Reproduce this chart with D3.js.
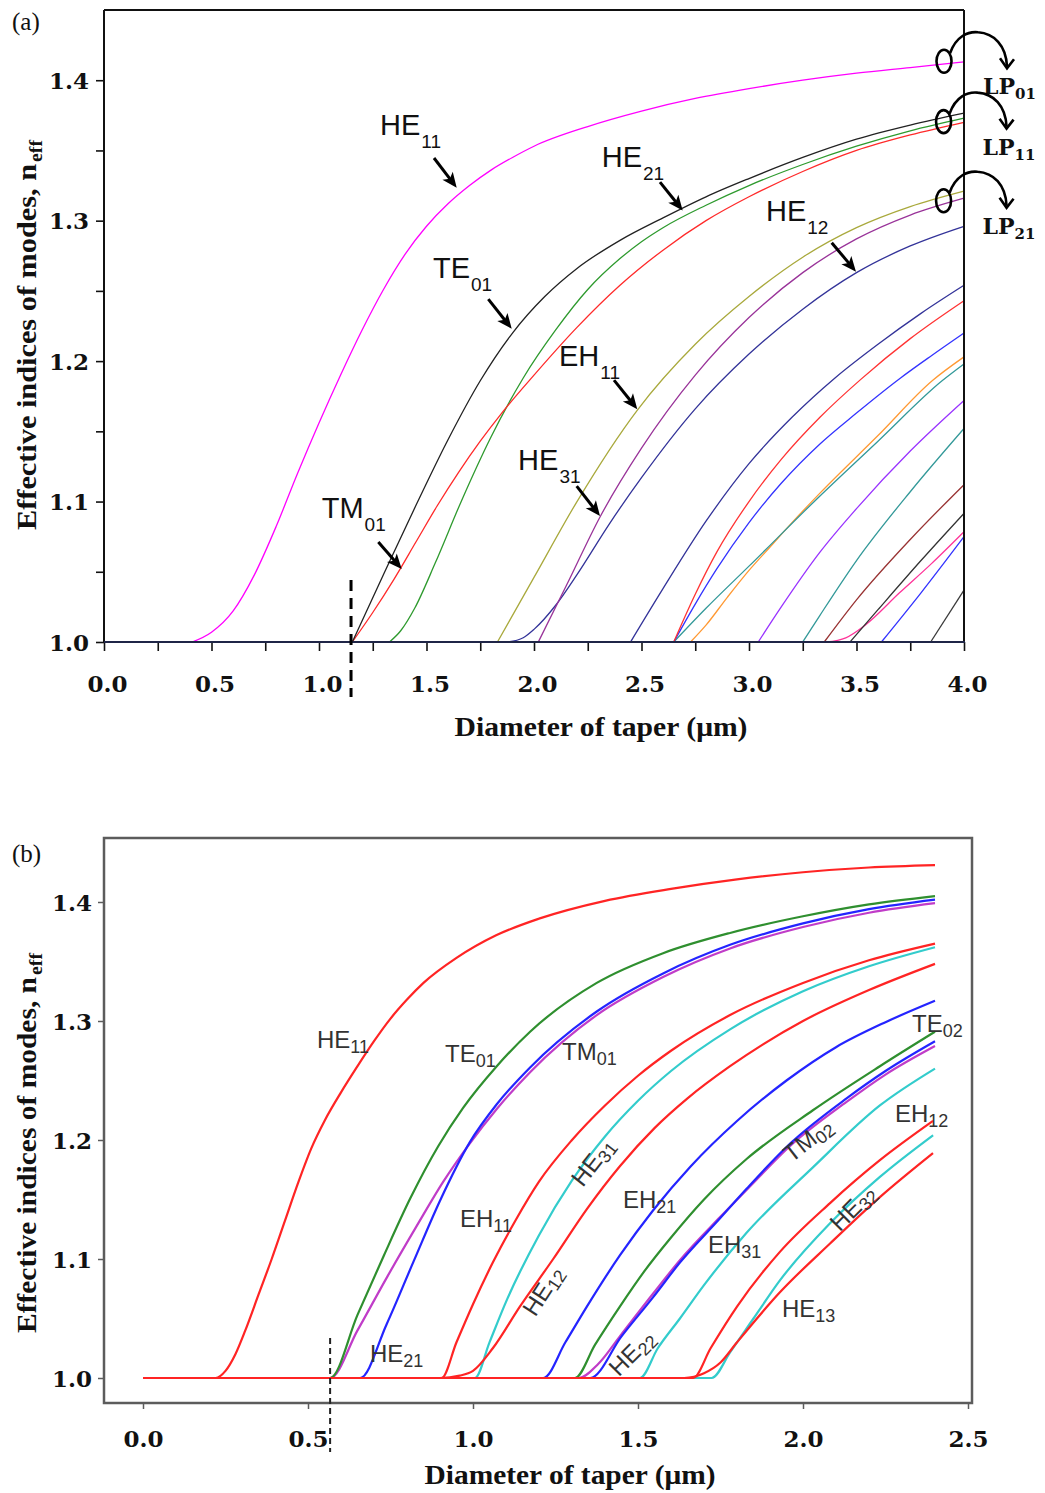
<!DOCTYPE html>
<html>
<head>
<meta charset="utf-8">
<script src="https://cdn.jsdelivr.net/npm/d3@7/dist/d3.min.js"></script>
<style>
html,body{margin:0;padding:0;background:#fff;}
svg{display:block;}
</style>
</head>
<body>
<svg id="chart" width="1045" height="1493"></svg>
<script>
// ================= Panel (a) data =================
const aXDomain = [0, 4];
const aYDomain = [1.0, 1.45];
const aXTicks = [0,0.25,0.5,0.75,1,1.25,1.5,1.75,2,2.25,2.5,2.75,3,3.25,3.5,3.75,4];
const aXLabels = [0,0.5,1,1.5,2,2.5,3,3.5,4];
const aYTicks = [1,1.05,1.1,1.15,1.2,1.25,1.3,1.35,1.4];
const aYLabels = [1,1.1,1.2,1.3,1.4];
const aCutoffLine = 1.149;

const a_HE11 = [[0.41,1],[0.5,1.007],[0.6,1.022],[0.7,1.048],[0.8,1.082],[0.9,1.12],[1.0,1.156],[1.1,1.19],[1.2,1.222],[1.3,1.251],[1.4,1.276],[1.5,1.296],[1.6,1.312],[1.7,1.325],[1.8,1.336],[1.9,1.345],[2.0,1.353],[2.25,1.367],[2.5,1.378],[2.75,1.387],[3.0,1.394],[3.25,1.4],[3.5,1.405],[3.75,1.409],[4.0,1.413]];
const a_TE01 = [[1.155,1],[1.3,1.048],[1.45,1.097],[1.6,1.144],[1.75,1.186],[1.9,1.22],[2.05,1.246],[2.2,1.266],[2.4,1.286],[2.6,1.302],[2.8,1.317],[3.0,1.33],[3.25,1.345],[3.5,1.358],[3.75,1.368],[4.0,1.3765]];
const a_TM01 = [[1.155,1],[1.25,1.021],[1.35,1.045],[1.45,1.071],[1.55,1.097],[1.65,1.121],[1.75,1.143],[1.85,1.163],[2.0,1.19],[2.2,1.224],[2.4,1.254],[2.6,1.279],[2.8,1.3],[3.0,1.317],[3.25,1.335],[3.5,1.35],[3.75,1.361],[4.0,1.370]];
const a_HE21 = [[1.328,1],[1.38,1.008],[1.445,1.024],[1.54,1.056],[1.664,1.101],[1.8,1.146],[1.95,1.188],[2.1,1.222],[2.25,1.251],[2.4,1.273],[2.5,1.285],[2.6,1.295],[2.8,1.311],[3.0,1.325],[3.25,1.34],[3.5,1.353],[3.75,1.364],[4.0,1.373]];
const a_EH11 = [[1.83,1],[2.0,1.046],[2.2,1.1],[2.48,1.165],[2.75,1.212],[3.0,1.246],[3.25,1.274],[3.5,1.295],[3.75,1.31],[4.0,1.321]];
const a_HE31 = [[2.02,1],[2.15,1.04],[2.307,1.089],[2.5,1.138],[2.75,1.19],[3.0,1.231],[3.25,1.263],[3.5,1.287],[3.75,1.304],[4.0,1.316]];
const a_HE12 = [[1.88,1],[1.95,1.003],[2.0,1.009],[2.1,1.026],[2.2,1.048],[2.35,1.084],[2.5,1.117],[2.75,1.166],[3.0,1.205],[3.25,1.237],[3.5,1.263],[3.75,1.282],[4.0,1.296]];
const a_M08 = [[2.449,1],[2.6,1.038],[2.8,1.086],[3.0,1.127],[3.2,1.16],[3.4,1.188],[3.6,1.212],[3.8,1.234],[4.0,1.254]];
const a_M09 = [[2.65,1],[2.75,1.034],[2.85,1.064],[3.0,1.1],[3.15,1.13],[3.33,1.16],[3.52,1.187],[3.75,1.216],[4.0,1.243]];
const a_M10 = [[2.65,1],[2.75,1.027],[2.85,1.052],[3.0,1.085],[3.15,1.113],[3.33,1.141],[3.5,1.163],[3.705,1.188],[3.85,1.204],[4.0,1.22]];
const a_M11 = [[2.65,1],[2.8,1.024],[3.0,1.054],[3.33,1.104],[3.6,1.143],[3.898,1.186],[4.0,1.198]];
const a_M12 = [[2.728,1],[2.8,1.012],[2.9,1.032],[3.0,1.051],[3.1,1.068],[3.2,1.085],[3.33,1.106],[3.6,1.147],[3.852,1.186],[4.0,1.203]];
const a_M13 = [[3.043,1],[3.15,1.025],[3.33,1.064],[3.5,1.095],[3.75,1.136],[4.0,1.172]];
const a_M14 = [[3.25,1],[3.33,1.019],[3.5,1.058],[3.75,1.107],[4.0,1.152]];
const a_M15 = [[3.35,1],[3.5,1.03],[3.75,1.073],[4.0,1.112]];
const a_M16 = [[3.47,1],[3.6,1.023],[3.8,1.058],[4.0,1.0916]];
const a_M17 = [[3.36,1],[3.45,1.003],[3.54,1.012],[3.7,1.035],[3.85,1.056],[4.0,1.0785]];
const a_M18 = [[3.616,1],[3.8,1.035],[4.0,1.075]];
const a_M19 = [[3.845,1],[4.0,1.037]];

// labels (text, subscript, x in um, baseline n)
const aLabelText = ["HE","HE","TE","HE","EH","HE","TM"];
const aLabelSub  = ["11","21","01","12","11","31","01"];
const aLabelX    = [1.284,2.315,1.530,3.079,2.116,1.926,1.0126];
const aLabelN    = [1.3609,1.3381,1.2591,1.2996,1.1964,1.1224,1.0883];
// arrows (tail -> tip) in data units
const aArrowX1 = [1.5349,2.5860,1.7874,3.3847,2.3721,2.1986,1.2758];
const aArrowN1 = [1.3446,1.3274,1.2441,1.2843,1.1865,1.1110,1.0712];
const aArrowX2 = [1.6405,2.6916,1.8963,3.4977,2.4805,2.3070,1.3847];
const aArrowN2 = [1.3235,1.3073,1.2231,1.2637,1.1658,1.0897,1.0520];
// LP groups (circle centre)
const aLPsub = ["01","11","21"];
const aLPX = [3.907,3.905,3.905];
const aLPN = [1.4135,1.3705,1.3142];

// ================= Panel (b) data =================
const bXDomain = [0, 2.5];
const bYDomain = [1.0, 1.4];
const bXTicks = [0,0.5,1,1.5,2,2.5];
const bYTicks = [1,1.1,1.2,1.3,1.4];
const bCutoffLine = 0.567;

const b_HE11 = [[0,1],[0.22,1],[0.25,1.006],[0.28,1.02],[0.31,1.04],[0.35,1.07],[0.39,1.1],[0.43,1.132],[0.47,1.164],[0.51,1.193],[0.55,1.216],[0.6,1.24],[0.65,1.262],[0.7,1.283],[0.75,1.302],[0.8,1.318],[0.85,1.332],[0.95,1.353],[1.07,1.372],[1.2,1.386],[1.4,1.401],[1.6,1.411],[1.8,1.419],[2.0,1.425],[2.2,1.429],[2.4,1.431]];
const b_TE01 = [[0,1],[0.567,1],[0.65,1.053],[0.73,1.103],[0.81,1.151],[0.895,1.195],[0.97,1.227],[1.072,1.262],[1.173,1.291],[1.375,1.332],[1.576,1.357],[1.779,1.374],[2.0,1.388],[2.2,1.398],[2.4,1.405]];
const b_HE21 = [[0,1],[0.658,1],[0.738,1.045],[0.82,1.098],[0.9,1.149],[0.99,1.198],[1.072,1.23],[1.173,1.261],[1.375,1.308],[1.576,1.34],[1.779,1.364],[2.0,1.382],[2.2,1.394],[2.4,1.402]];
const b_TM01 = [[0,1],[0.567,1],[0.65,1.04],[0.74,1.085],[0.83,1.128],[0.91,1.165],[0.99,1.197],[1.072,1.226],[1.173,1.257],[1.375,1.305],[1.576,1.337],[1.779,1.361],[2.0,1.379],[2.2,1.391],[2.4,1.399]];
const b_EH11 = [[0,1],[0.905,1],[0.95,1.03],[1.0,1.062],[1.06,1.097],[1.13,1.133],[1.2,1.165],[1.3,1.2],[1.4,1.229],[1.5,1.254],[1.6,1.275],[1.779,1.305],[2.0,1.332],[2.2,1.351],[2.4,1.365]];
const b_HE31 = [[0,1],[1.006,1],[1.05,1.03],[1.1,1.064],[1.2,1.12],[1.3,1.166],[1.4,1.203],[1.5,1.233],[1.6,1.258],[1.779,1.293],[2.0,1.325],[2.2,1.346],[2.4,1.362]];
const b_HE12 = [[0,1],[0.9,1],[0.96,1.002],[1.0,1.006],[1.06,1.025],[1.142,1.06],[1.243,1.1],[1.345,1.142],[1.445,1.178],[1.55,1.21],[1.65,1.235],[1.779,1.262],[2.0,1.3],[2.2,1.326],[2.4,1.348]];
const b_EH21 = [[0,1],[1.213,1],[1.28,1.03],[1.345,1.06],[1.445,1.103],[1.546,1.141],[1.66,1.178],[1.8,1.216],[1.95,1.25],[2.1,1.278],[2.25,1.299],[2.4,1.317]];
const b_TE02 = [[0,1],[1.309,1],[1.37,1.028],[1.445,1.06],[1.52,1.09],[1.597,1.117],[1.7,1.15],[1.829,1.184],[2.03,1.225],[2.233,1.262],[2.4,1.291]];
const b_HE22 = [[0,1],[1.355,1],[1.45,1.035],[1.546,1.068],[1.627,1.097],[1.748,1.134],[1.829,1.159],[1.961,1.197],[2.132,1.235],[2.25,1.258],[2.4,1.283]];
const b_TM02 = [[0,1],[1.32,1],[1.38,1.012],[1.445,1.035],[1.546,1.071],[1.627,1.099],[1.748,1.135],[1.829,1.158],[1.961,1.195],[2.132,1.232],[2.25,1.255],[2.4,1.279]];
const b_EH31 = [[0,1],[1.506,1],[1.56,1.025],[1.627,1.05],[1.7,1.078],[1.829,1.122],[2.03,1.177],[2.233,1.229],[2.4,1.26]];
const b_EH12 = [[0,1],[1.667,1],[1.72,1.025],[1.8,1.06],[1.93,1.106],[2.082,1.147],[2.233,1.183],[2.394,1.216]];
const b_HE32 = [[0,1],[1.723,1],[1.78,1.022],[1.85,1.05],[1.93,1.082],[2.082,1.13],[2.233,1.169],[2.394,1.204]];
const b_HE13 = [[0,1],[1.64,1],[1.7,1.004],[1.75,1.013],[1.8,1.03],[1.93,1.072],[2.082,1.113],[2.233,1.152],[2.394,1.189]];

// horizontal labels
const bLabelText = ["HE","TE","TM","TE","EH","EH","EH","EH","HE","HE"];
const bLabelSub  = ["11","01","01","02","12","11","21","31","13","21"];
const bLabelX    = [0.5273,0.9152,1.2697,2.3303,2.2788,0.9606,1.4545,1.7121,1.9364,0.6879];
const bLabelN    = [1.2773,1.2655,1.2672,1.2908,1.2151,1.1269,1.1429,1.1050,1.0513,1.0134];
// rotated labels (centre)
const bRotText = ["HE","HE","HE","TM","HE"];
const bRotSub  = ["31","12","22","02","32"];
const bRotX    = [1.3636,1.2121,1.4818,2.0152,2.1515];
const bRotN    = [1.1815,1.0731,1.0210,1.2000,1.1429];
const bRotAngle = [-52,-57,-45,-38,-45];

// ================= drawing =================
const svg = d3.select("#chart");
svg.append("rect").attr("width",1045).attr("height",1493).attr("fill","#fff");
const f1 = d3.format(".1f");
const SERIF = "'DejaVu Serif', serif";
const TSERIF = "'Liberation Serif', 'Times New Roman', serif";
const SANS = "'Liberation Sans', Arial, sans-serif";

// ---------- Panel (a) ----------
const xA = d3.scaleLinear().domain(aXDomain).range([104, 964]);
const yA = d3.scaleLinear().domain(aYDomain).range([642, 10]);
const gA = svg.append("g");

const aSeries = [
  {d:a_M19,c:"#3a3a3a"},{d:a_M18,c:"#3333ff"},{d:a_M17,c:"#ff3399"},{d:a_M16,c:"#333333"},
  {d:a_M15,c:"#993333"},{d:a_M14,c:"#339999"},{d:a_M13,c:"#9933ff"},{d:a_M12,c:"#ff9933"},
  {d:a_M11,c:"#339999"},{d:a_M10,c:"#3333ff"},{d:a_M09,c:"#ff3333"},{d:a_M08,c:"#333399"},
  {d:a_HE12,c:"#333399"},{d:a_HE31,c:"#993399"},{d:a_EH11,c:"#a9a93c"},
  {d:a_HE21,c:"#2e9a2e"},{d:a_TM01,c:"#ff2a2a"},{d:a_TE01,c:"#222222"},{d:a_HE11,c:"#ff00ff"}
];
const lineA = d3.line().x(d=>xA(d[0])).y(d=>yA(d[1])).curve(d3.curveMonotoneX);
gA.append("g").selectAll("path").data(aSeries).join("path")
  .attr("d", s=>lineA(s.d)).attr("fill","none").attr("stroke", s=>s.c).attr("stroke-width",1.3);

// axes
const xAxA = gA.append("g").attr("transform",`translate(0,${yA(1)})`)
  .call(d3.axisBottom(xA).tickValues(aXTicks).tickSize(9).tickFormat(d => aXLabels.includes(d) ? f1(d) : ""));
xAxA.select(".domain").remove();
xAxA.selectAll(".tick line").attr("stroke","#111").attr("stroke-width",1.6);
xAxA.selectAll(".tick text").attr("x",3).attr("y",50).attr("dy",null)
  .attr("font-family",SERIF).attr("font-weight","bold").attr("font-size",23).attr("fill","#111");

const yAxA = gA.append("g").attr("transform",`translate(${xA(0)},0)`)
  .call(d3.axisLeft(yA).tickValues(aYTicks).tickSize(8).tickFormat(d => aYLabels.includes(d) ? f1(d) : ""));
yAxA.select(".domain").remove();
yAxA.selectAll(".tick line").attr("stroke","#111").attr("stroke-width",1.6);
yAxA.selectAll(".tick text").attr("x",-15).attr("dy","0.36em")
  .attr("font-family",SERIF).attr("font-weight","bold").attr("font-size",23).attr("fill","#111");

// frame
gA.append("line").attr("x1",xA(0)).attr("x2",xA(4)).attr("y1",yA(1.45)).attr("y2",yA(1.45)).attr("stroke","#111").attr("stroke-width",2);
gA.append("line").attr("x1",xA(0)).attr("x2",xA(0)).attr("y1",yA(1.45)).attr("y2",yA(1)).attr("stroke","#111").attr("stroke-width",2);
gA.append("line").attr("x1",xA(4)).attr("x2",xA(4)).attr("y1",yA(1.45)).attr("y2",yA(1)).attr("stroke","#111").attr("stroke-width",2);
gA.append("line").attr("x1",xA(0)).attr("x2",xA(4)+1).attr("y1",yA(1)).attr("y2",yA(1)).attr("stroke","#1f2547").attr("stroke-width",2.2);

// dashed cutoff
gA.append("line").attr("x1",xA(aCutoffLine)).attr("x2",xA(aCutoffLine))
  .attr("y1",yA(1.0441)).attr("y2",yA(0.9609)).attr("stroke","#000").attr("stroke-width",3).attr("stroke-dasharray","11,7");

// labels
aLabelText.forEach((t,i)=>{
  const tx = gA.append("text").attr("x",xA(aLabelX[i])).attr("y",yA(aLabelN[i]))
    .attr("font-family",SANS).attr("font-size",29).attr("fill","#111");
  tx.append("tspan").text(t);
  tx.append("tspan").attr("font-size",19).attr("dy",13).attr("dx",1).text(aLabelSub[i]);
});
// arrows
function arrow(g,x1,y1,x2,y2,w,L,W){
  const dx=x2-x1, dy=y2-y1, len=Math.hypot(dx,dy), ux=dx/len, uy=dy/len, nx=-uy, ny=ux;
  g.append("line").attr("x1",x1).attr("y1",y1).attr("x2",x2-ux*L*0.7).attr("y2",y2-uy*L*0.7)
    .attr("stroke","#000").attr("stroke-width",w);
  g.append("path").attr("d",`M${x2},${y2}L${x2-ux*L+nx*W},${y2-uy*L+ny*W}L${x2-ux*L*0.75},${y2-uy*L*0.75}L${x2-ux*L-nx*W},${y2-uy*L-ny*W}Z`)
    .attr("fill","#000");
}
aArrowX1.forEach((_,i)=>arrow(gA,xA(aArrowX1[i]),yA(aArrowN1[i]),xA(aArrowX2[i]),yA(aArrowN2[i]),3,15,6.5));

// LP markers
aLPsub.forEach((s,i)=>{
  const cx = xA(aLPX[i]), cy = yA(aLPN[i]);
  gA.append("ellipse").attr("cx",cx).attr("cy",cy).attr("rx",7.5).attr("ry",11.5)
    .attr("fill","none").attr("stroke","#000").attr("stroke-width",2.6);
  gA.append("path").attr("d",`M${cx+6},${cy-8}C${cx+12},${cy-25} ${cx+24},${cy-30} ${cx+34},${cy-29}C${cx+50},${cy-28} ${cx+62},${cy-16} ${cx+63},${cy+5}`)
    .attr("fill","none").attr("stroke","#000").attr("stroke-width",2.6);
  gA.append("path").attr("d",`M${cx+56},${cy-3}L${cx+63},${cy+7}L${cx+70},${cy-2}`)
    .attr("fill","none").attr("stroke","#000").attr("stroke-width",2.6).attr("stroke-linejoin","miter");
  const t = gA.append("text").attr("x",cx+39).attr("y",cy+33)
    .attr("font-family",SERIF).attr("font-weight","bold").attr("font-size",22).attr("fill","#111");
  t.append("tspan").text("LP");
  t.append("tspan").attr("font-size",15).attr("dy",5).text(s);
});

// titles
gA.append("text").attr("x",12).attr("y",30).attr("font-family",TSERIF).attr("font-size",25).attr("fill","#111").text("(a)");
gA.append("text").attr("x",601).attr("y",736).attr("text-anchor","middle")
  .attr("font-family",TSERIF).attr("font-weight","bold").attr("font-size",27).attr("fill","#111")
  .attr("textLength",293).attr("lengthAdjust","spacingAndGlyphs").text("Diameter of taper (μm)");
function yTitle(g, x, y, len){
  const gg = g.append("g").attr("transform",`translate(${x},${y}) rotate(-90)`);
  gg.append("text").attr("x",0).attr("y",0).attr("font-family",TSERIF).attr("font-weight","bold")
    .attr("font-size",27).attr("fill","#111").attr("textLength",len).attr("lengthAdjust","spacingAndGlyphs")
    .text("Effective indices of modes, n");
  gg.append("text").attr("x",len+2).attr("y",6).attr("font-family",TSERIF).attr("font-weight","bold")
    .attr("font-size",18).attr("fill","#111").attr("textLength",22).attr("lengthAdjust","spacingAndGlyphs").text("eff");
}
yTitle(gA, 36, 530, 366);

// ---------- Panel (b) ----------
const xB = d3.scaleLinear().domain(bXDomain).range([143, 968]);
const yB = d3.scaleLinear().domain(bYDomain).range([1378, 902]);
const gB = svg.append("g");
const RED="#ff2424", GRN="#2f8f2f", BLU="#2424ff", PUR="#c03cc8", CYN="#33cccc";
const bSeries = [
  {d:b_HE32,c:CYN},{d:b_EH31,c:CYN},{d:b_HE31,c:CYN},
  {d:b_TM02,c:PUR},{d:b_HE22,c:BLU},{d:b_TE02,c:GRN},{d:b_EH21,c:BLU},
  {d:b_TM01,c:PUR},{d:b_HE21,c:BLU},{d:b_TE01,c:GRN},
  {d:b_HE11,c:RED},{d:b_HE12,c:RED},{d:b_EH11,c:RED},{d:b_EH12,c:RED},{d:b_HE13,c:RED}
];
const lineB = d3.line().x(d=>xB(d[0])).y(d=>yB(d[1])).curve(d3.curveMonotoneX);
gB.append("g").selectAll("path").data(bSeries).join("path")
  .attr("d", s=>lineB(s.d)).attr("fill","none").attr("stroke", s=>s.c).attr("stroke-width",2.2);

// frame
gB.append("rect").attr("x",104).attr("y",838).attr("width",868).attr("height",565)
  .attr("fill","none").attr("stroke","#5c5c5c").attr("stroke-width",2.5);

const xAxB = gB.append("g").attr("transform","translate(0,1403)")
  .call(d3.axisBottom(xB).tickValues(bXTicks).tickSize(6).tickFormat(f1));
xAxB.select(".domain").remove();
xAxB.selectAll(".tick line").attr("stroke","#5c5c5c").attr("stroke-width",1.5);
xAxB.selectAll(".tick text").attr("y",44).attr("dy",null)
  .attr("font-family",SERIF).attr("font-weight","bold").attr("font-size",23).attr("fill","#111");
const yAxB = gB.append("g").attr("transform","translate(104,0)")
  .call(d3.axisLeft(yB).tickValues(bYTicks).tickSize(6).tickFormat(f1));
yAxB.select(".domain").remove();
yAxB.selectAll(".tick line").attr("stroke","#5c5c5c").attr("stroke-width",1.5);
yAxB.selectAll(".tick text").attr("x",-12).attr("dy","0.36em")
  .attr("font-family",SERIF).attr("font-weight","bold").attr("font-size",23).attr("fill","#111");

// dashed cutoff
gB.append("line").attr("x1",xB(bCutoffLine)).attr("x2",xB(bCutoffLine))
  .attr("y1",yB(1.0336)).attr("y2",yB(0.9378)).attr("stroke","#222").attr("stroke-width",2).attr("stroke-dasharray","6,4");

// labels
bLabelText.forEach((t,i)=>{
  const tx = gB.append("text").attr("x",xB(bLabelX[i])).attr("y",yB(bLabelN[i]))
    .attr("font-family",SANS).attr("font-size",24).attr("fill","#333");
  tx.append("tspan").text(t);
  tx.append("tspan").attr("font-size",18).attr("dy",5).text(bLabelSub[i]);
});
bRotText.forEach((t,i)=>{
  const gg = gB.append("g").attr("transform",`translate(${xB(bRotX[i])},${yB(bRotN[i])}) rotate(${bRotAngle[i]})`);
  const tx = gg.append("text").attr("x",0).attr("y",8).attr("text-anchor","middle")
    .attr("font-family",SANS).attr("font-size",24).attr("fill","#333");
  tx.append("tspan").text(t);
  tx.append("tspan").attr("font-size",18).attr("dy",4).text(bRotSub[i]);
});

gB.append("text").attr("x",12).attr("y",862).attr("font-family",TSERIF).attr("font-size",25).attr("fill","#111").text("(b)");
gB.append("text").attr("x",570).attr("y",1484).attr("text-anchor","middle")
  .attr("font-family",TSERIF).attr("font-weight","bold").attr("font-size",27).attr("fill","#111")
  .attr("textLength",291).attr("lengthAdjust","spacingAndGlyphs").text("Diameter of taper (μm)");
yTitle(gB, 36, 1333, 356);
</script>
</body>
</html>
